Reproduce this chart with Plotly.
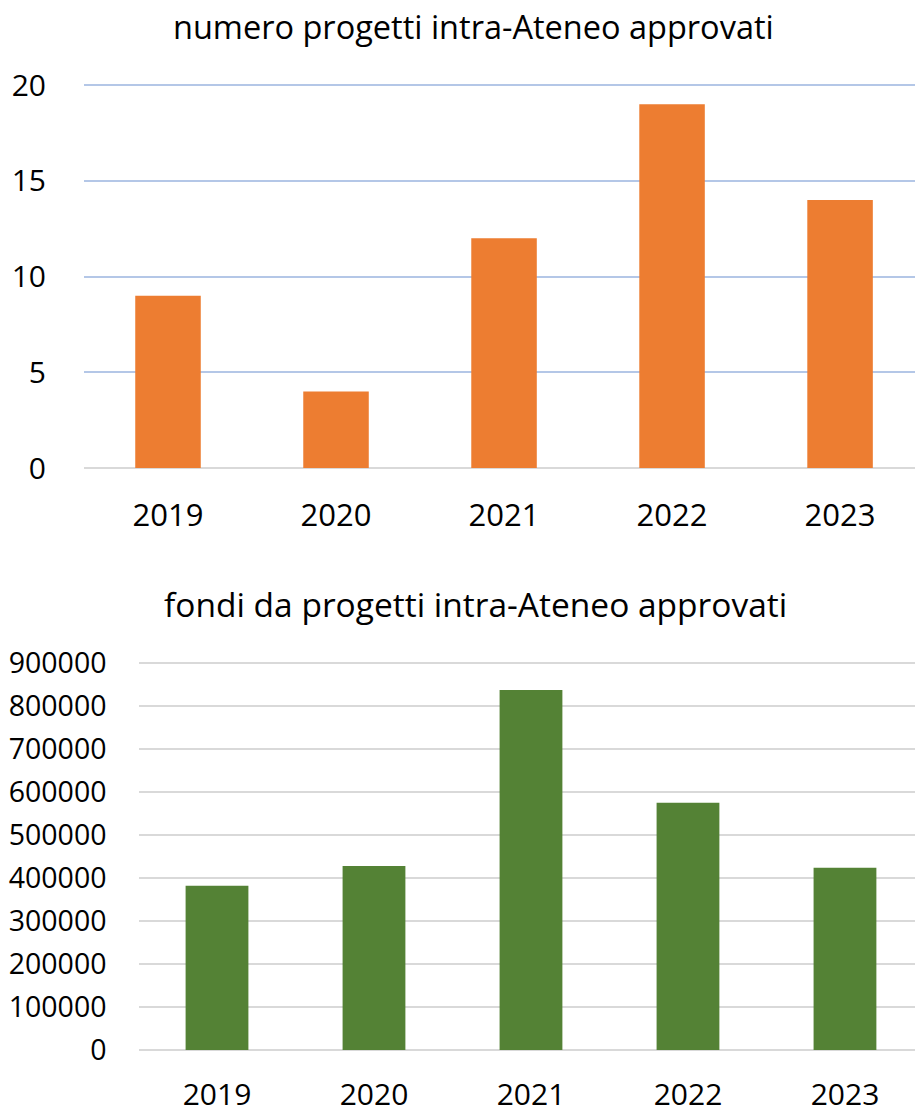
import plotly.graph_objects as go

# Data
years = ["2019", "2020", "2021", "2022", "2023"]
progetti = [9, 4, 12, 19, 14]
fondi = [382000, 428000, 837000, 575000, 424000]

title_top = "numero progetti intra-Ateneo approvati"
title_bottom = "fondi da progetti intra-Ateneo approvati"

FONT = "Open Sans"
W, H = 915, 1116

fig = go.Figure()

fig.add_trace(go.Bar(x=years, y=progetti, marker_color="#ED7D31", width=0.39,
                     xaxis="x", yaxis="y", showlegend=False))
fig.add_trace(go.Bar(x=years, y=fondi, marker_color="#548235", width=0.40,
                     xaxis="x2", yaxis="y2", showlegend=False))


def py(px):
    """Convert a pixel offset from the top into paper coordinates."""
    return 1 - px / H


# a little headroom above the top tick so its gridline is drawn
top_px_per_unit = (468 - 85) / 20
bot_px_per_unit = (1050 - 663) / 900000
pad_px = 3

common = dict(automargin=False, showline=False, ticks="")

fig.update_layout(
    template="none",
    width=W, height=H,
    margin=dict(l=0, r=0, t=0, b=0, pad=0, autoexpand=False),
    paper_bgcolor="white", plot_bgcolor="white",
    font=dict(family=FONT, color="#000000"),
    xaxis=dict(domain=[84 / W, 1], anchor="y", range=[-0.5, 4.446],
               type="category", showgrid=False, zeroline=False,
               tickfont=dict(size=31), ticklabelstandoff=26, **common),
    yaxis=dict(domain=[py(468), py(85 - pad_px)], anchor="x",
               range=[0, 20 + pad_px / top_px_per_unit],
               tickvals=[0, 5, 10, 15, 20], showgrid=True,
               gridcolor="#B4C7E7", gridwidth=2, zeroline=True,
               zerolinecolor="#D9D9D9", zerolinewidth=2,
               tickfont=dict(size=30), ticklabelstandoff=37, **common),
    xaxis2=dict(domain=[138.5 / W, 1], anchor="y2", range=[-0.5, 4.446],
                type="category", showgrid=False, zeroline=False,
                tickfont=dict(size=30), ticklabelstandoff=24, **common),
    yaxis2=dict(domain=[py(1050), py(663 - pad_px)], anchor="x2",
                range=[0, 900000 + pad_px / bot_px_per_unit],
                tickvals=[i * 100000 for i in range(10)],
                tickformat="d", showgrid=True, gridcolor="#D9D9D9",
                gridwidth=2, zeroline=True, zerolinecolor="#D9D9D9",
                zerolinewidth=2, tickfont=dict(size=28.5),
                ticklabelstandoff=31, **common),
    annotations=[
        dict(text=title_top, x=473 / W, y=py(27), xref="paper", yref="paper",
             showarrow=False, font=dict(size=32.5, family=FONT),
             xanchor="center", yanchor="middle"),
        dict(text=title_bottom, x=475 / W, y=py(604), xref="paper",
             yref="paper", showarrow=False, font=dict(size=33.5, family=FONT),
             xanchor="center", yanchor="middle"),
    ],
)

fig.write_html("out.html")
